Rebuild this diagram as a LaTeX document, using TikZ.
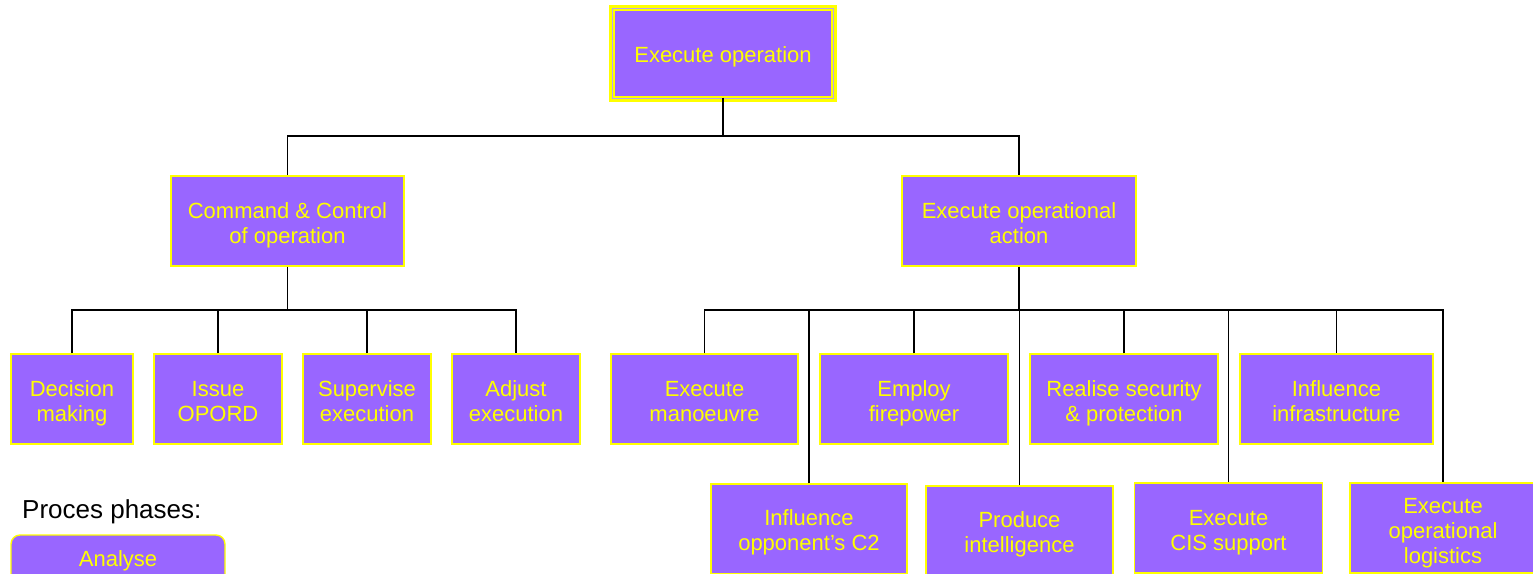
\documentclass[tikz,border=0pt]{standalone}
\usepackage{fontspec}
\setmainfont{Liberation Sans}
\definecolor{boxfill}{HTML}{9966FF}
\definecolor{boxline}{HTML}{FFFF00}
\definecolor{band}{HTML}{B8A4EE}
% centred lines, lowered a little inside their box (reported size unchanged)
\newcommand{\lines}[2][5pt]{\raisebox{-#1}[\height][\depth]{\begin{tabular}{@{}c@{}}#2\end{tabular}}}
\begin{document}
\begin{tikzpicture}[x=1pt,y=-1pt,
  box/.style={fill=boxfill,draw=boxline,line width=1.4pt,text=boxline,
    inner sep=0pt,minimum height=90,
    font=\fontsize{22}{25}\selectfont},
  link/.style={draw=black,line width=1.3pt},
  trunk/.style={draw=black,line width=1.9pt}]
\useasboundingbox (0,0) rectangle (1533,573);
\clip (0,0) rectangle (1533,573);

% root with double yellow frame
\draw[fill=band,draw=boxline,line width=3pt] (610.5,6.5) rectangle (835.5,100.5);
\node[box,minimum width=218,minimum height=87]
  (root) at (723,53.5) {\lines[4pt]{Execute operation}};

% second level
\node[box,minimum width=233] (cc)  at (287.5,221) {\lines{Command \& Control\\of operation}};
\node[box,minimum width=234] (eoa) at (1019,221) {\lines{Execute operational\\action}};

% C2 sub-processes
\node[box,minimum width=122] (dm) at (72,399)  {\lines{Decision\\making}};
\node[box,minimum width=128] (io) at (218,399) {\lines{Issue\\OPORD}};
\node[box,minimum width=128] (se) at (367,399) {\lines{Supervise\\execution}};
\node[box,minimum width=128] (ae) at (516,399) {\lines{Adjust\\execution}};

% operational action, upper row
\node[box,minimum width=187] (em) at (704.5,399) {\lines{Execute\\manoeuvre}};
\node[box,minimum width=188] (ef) at (914,399)   {\lines{Employ\\firepower}};
\node[box,minimum width=188] (rs) at (1124,399)  {\lines{Realise security\\\& protection}};
\node[box,minimum width=193] (ii) at (1336.5,399) {\lines{Influence\\infrastructure}};

% operational action, lower row
\node[box,minimum width=196] (ioc) at (809,529)   {\lines[4pt]{Influence\\opponent’s C2}};
\node[box,minimum width=187] (pi)  at (1019.5,531) {\lines[4pt]{Produce\\intelligence}};
\node[box,minimum width=188] (cis) at (1228.5,528) {\lines{Execute\\CIS support}};
\node[box,minimum width=186] (eol) at (1443,528)   {\lines{Execute\\operational\\logistics}};

% legend
\node[anchor=west,inner sep=0pt,font=\fontsize{26}{30}\selectfont] (leg) at (22,512) {Proces phases:};
\node[box,rounded corners=9pt,minimum width=214,minimum height=48,font=\fontsize{22}{25}\selectfont]
  (an) at (118,559) {\lines[2pt]{Analyse}};

% connectors
\coordinate (b1) at (723,136);
\coordinate (b2) at (287.5,310);
\coordinate (b3) at (1019,310);

\draw[trunk] (root.south) -- (b1);
\draw[link] (cc.north) |- (b1) -| (eoa.north);

\draw[trunk] (cc.south) -- (b2);
\draw[link] (dm.north) |- (b2) -| (ae.north);
\draw[link] (io.north) -- (io.north |- b2);
\draw[link] (se.north) -- (se.north |- b2);

\draw[trunk] (eoa.south) -- (b3);
\draw[link] (em.north) |- (b3) -| (eol.north);
\draw[link] (ef.north) -- (ef.north |- b3);
\draw[link] (rs.north) -- (rs.north |- b3);
\draw[link] (ii.north) -- (ii.north |- b3);
\draw[link] (ioc.north) -- (ioc.north |- b3);
\draw[link] (pi.north) -- (pi.north |- b3);
\draw[link] (cis.north) -- (cis.north |- b3);
\end{tikzpicture}
\end{document}
